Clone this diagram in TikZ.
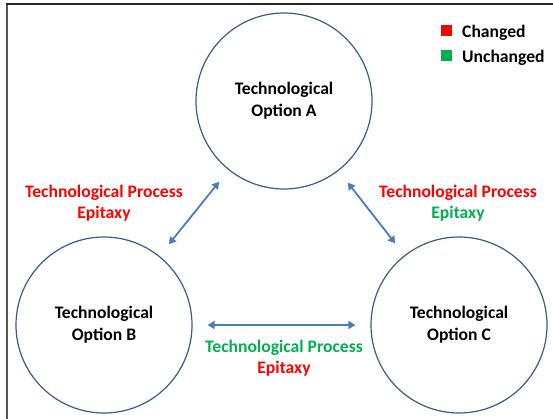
\documentclass[tikz,border=0pt]{standalone}
\usepackage{fontspec}
\setmainfont{Carlito}
\usetikzlibrary{arrows.meta}
\definecolor{cred}{RGB}{255,0,0}
\definecolor{cgreen}{RGB}{0,176,80}
\definecolor{arrowblue}{RGB}{74,126,187}
\definecolor{circ}{RGB}{56,93,138}
\definecolor{framegray}{RGB}{85,85,85}
\begin{document}
\begin{tikzpicture}[x=1pt,y=-1pt,
  option/.style={circle, draw=circ, line width=1.2pt, minimum size=176pt, inner sep=0pt, align=center, font=\fontsize{17.6}{22}\selectfont\bfseries},
  link/.style={arrowblue, line width=1.8pt, shorten <=15pt, shorten >=15pt, {Triangle[width=8pt,length=7pt]}-{Triangle[width=8pt,length=7pt]}},
  lbl/.style={align=center, font=\fontsize{17.6}{21}\selectfont\bfseries},
  legtext/.style={anchor=west, inner sep=0pt, font=\fontsize{17.6}{21}\selectfont\bfseries},
  sq/.style={minimum size=11pt, inner sep=0pt}]
\useasboundingbox (0,0) rectangle (553,419);
\fill[white] (0,0) rectangle (553,419);
% frame
\draw[framegray, line width=2pt] (7,419) -- (7,4);
\draw[black!85, line width=1.5pt] (6,4) -- (553,4);
% options
\node[option] (A) at (284,101) {Technological\\Option A};
\node[option] (B) at (104,325) {Technological\\Option B};
\node[option] (C) at (459,325) {Technological\\Option C};
% connectors
\draw[link] (A) -- (B);
\draw[link] (A) -- (C);
\draw[link] (B) -- (C);
% labels
\node[lbl, text=cred] (lAB) at (104,203) {Technological Process\\Epitaxy};
\node[lbl] (lAC) at (458,203) {\textcolor{cred}{Technological Process}\\\textcolor{cgreen}{Epitaxy}};
\node[lbl] (lBC) at (284,358) {\textcolor{cgreen}{Technological Process}\\\textcolor{cred}{Epitaxy}};
% legend
\node[sq, fill=cred] (rsq) at (446.5,31) {};
\node[legtext] (rtx) at (462,32.5) {Changed};
\node[sq, fill=cgreen] (gsq) at (446.5,56) {};
\node[legtext] (gtx) at (462,57.5) {Unchanged};
\end{tikzpicture}
\end{document}
